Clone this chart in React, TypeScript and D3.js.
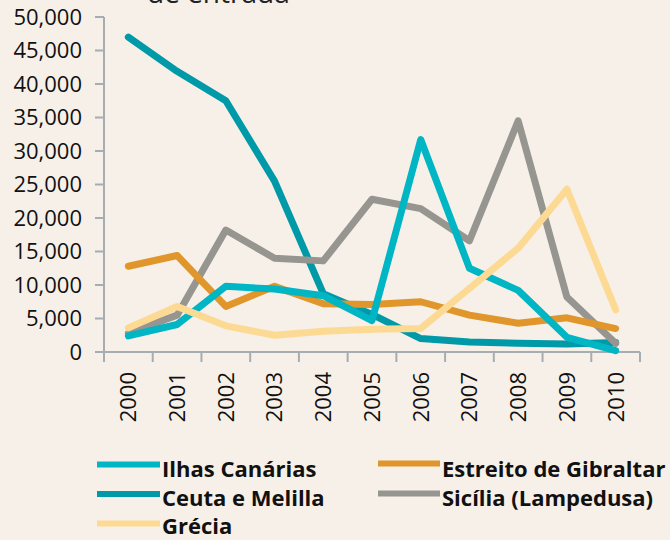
import React from "react";
import * as d3 from "d3";

const years = ["2000","2001","2002","2003","2004","2005","2006","2007","2008","2009","2010"];
const ilhasCanarias = [2400, 4100, 9800, 9400, 8400, 4700, 31700, 12500, 9200, 2200, 200];
const ceutaMelilla = [47000, 41900, 37500, 25500, 8700, 5600, 2000, 1500, 1300, 1200, 1400];
const estreitoGibraltar = [12800, 14400, 6800, 9800, 7200, 7100, 7500, 5500, 4300, 5100, 3500];
const siciliaLampedusa = [2800, 5500, 18200, 14000, 13600, 22800, 21400, 16600, 34500, 8200, 1300];
const grecia = [3600, 6800, 3900, 2500, 3100, 3400, 3500, 9500, 15500, 24300, 6300];
const yTicks = [0, 5000, 10000, 15000, 20000, 25000, 30000, 35000, 40000, 45000, 50000];

const seriesNames = ["Ilhas Canárias", "Estreito de Gibraltar", "Ceuta e Melilla", "Sicília (Lampedusa)", "Grécia"];
const seriesColors = ["#00B5C4", "#E0962A", "#0099A8", "#969590", "#FDDA94"];
const seriesValues = [ilhasCanarias, estreitoGibraltar, ceutaMelilla, siciliaLampedusa, grecia];
// drawing order (back to front)
const drawOrder = [2, 3, 1, 0, 4];

export default function App() {
  const W = 670, H = 540;
  const left = 104, right = 640, top = 17, bottom = 352;
  const x = d3.scaleBand<string>().domain(years).range([left, right]);
  const y = d3.scaleLinear().domain([0, 50000]).range([bottom, top]);
  const line = d3.line<number>()
    .x((_, i) => (x(years[i]) as number) + x.bandwidth() / 2)
    .y((d) => y(d));
  const font = "'Open Sans', sans-serif";
  const axisColor = "#A6ADB2";
  const fmt = d3.format(",");

  const legendItems = [
    { i: 0, lx: 97, tx: 162, ly: 464.5, by: 477 },
    { i: 1, lx: 378, tx: 442, ly: 463.5, by: 477 },
    { i: 2, lx: 97, tx: 162, ly: 494, by: 505.5 },
    { i: 3, lx: 378, tx: 442, ly: 493.5, by: 505.5 },
    { i: 4, lx: 97, tx: 162, ly: 523.5, by: 534 },
  ];

  return (
    <svg width={W} height={H} style={{ position: "absolute", left: 0, top: 0, background: "#F6F0E9" }}>
      <rect x={0} y={0} width={W} height={H} fill="#F6F0E9" />
      <text x={147} y={3} fontFamily={font} fontSize={28} fill="#222">de entrada</text>

      {/* y axis */}
      <line x1={left} x2={left} y1={top} y2={bottom} stroke={axisColor} strokeWidth={2} />
      {yTicks.map((t) => (
        <g key={t}>
          <line x1={left - 9} x2={left} y1={y(t)} y2={y(t)} stroke={axisColor} strokeWidth={2} />
          <text x={82} y={y(t)} dy="0.36em" textAnchor="end" fontFamily={font} fontSize={22} fill="#111">
            {fmt(t)}
          </text>
        </g>
      ))}

      {/* x axis */}
      <line x1={left} x2={right} y1={bottom} y2={bottom} stroke={axisColor} strokeWidth={2} />
      {years.map((yr) => (
        <line key={"t" + yr} x1={(x(yr) as number)} x2={(x(yr) as number)} y1={bottom} y2={bottom + 10} stroke={axisColor} strokeWidth={2} />
      ))}
      <line x1={right} x2={right} y1={bottom} y2={bottom + 10} stroke={axisColor} strokeWidth={2} />
      {years.map((yr) => {
        const cx = (x(yr) as number) + x.bandwidth() / 2;
        return (
          <text key={"l" + yr} transform={`translate(${cx},${bottom + 20}) rotate(-90)`} textAnchor="end" dy="0.36em"
            fontFamily={font} fontSize={22} fill="#111">{yr}</text>
        );
      })}

      {/* lines */}
      {drawOrder.map((si) => (
        <path key={si} d={line(seriesValues[si]) as string} fill="none" stroke={seriesColors[si]}
          strokeWidth={7} strokeLinejoin="round" strokeLinecap="round" />
      ))}

      {/* legend */}
      {legendItems.map(({ i, lx, tx, ly, by }) => (
        <g key={"lg" + i}>
          <line x1={lx} x2={tx - 2} y1={ly} y2={ly} stroke={seriesColors[i]} strokeWidth={6} />
          <text x={tx} y={by} fontFamily={font} fontWeight="bold" fontSize={22} fill="#111">
            {seriesNames[i]}
          </text>
        </g>
      ))}
    </svg>
  );
}
